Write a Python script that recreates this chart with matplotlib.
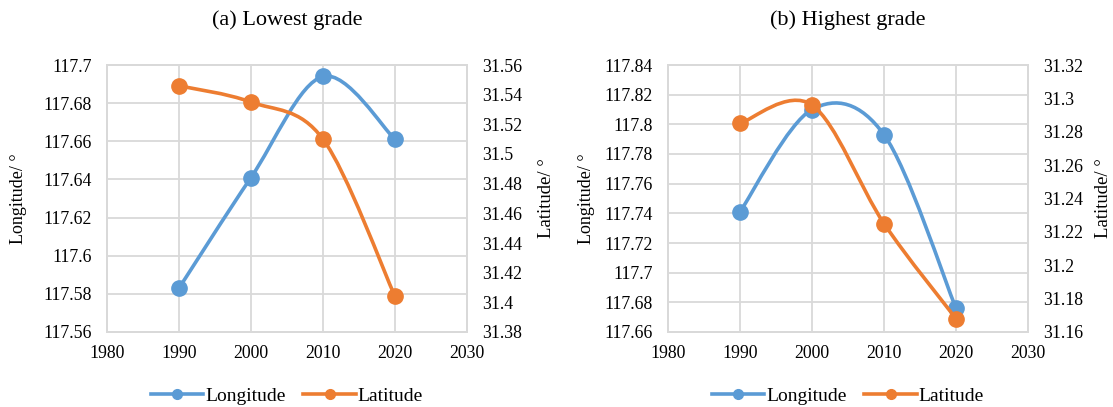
import matplotlib
matplotlib.use("Agg")
import matplotlib.pyplot as plt
from matplotlib.path import Path
from matplotlib.patches import PathPatch
from matplotlib.lines import Line2D
from matplotlib.ticker import FuncFormatter, MultipleLocator
import numpy as np

plt.rcParams['font.family'] = ['Liberation Serif', 'DejaVu Serif']

years = [1990, 2000, 2010, 2020]
titles = ["(a) Lowest grade", "(b) Highest grade"]
lon_a = [117.583, 117.641, 117.694, 117.661]
lat_a = [31.546, 31.535, 31.510, 31.404]
lon_b = [117.741, 117.810, 117.793, 117.676]
lat_b = [31.285, 31.296, 31.225, 31.168]
lon_lims = [(117.56, 117.70), (117.66, 117.84)]
lat_lims = [(31.38, 31.56), (31.16, 31.32)]

BLUE = "#5B9BD5"
ORANGE = "#ED7D31"
GRID = "#D9D9D9"
FS = 12.8


def smooth_path(x, y):
    # Excel-style smoothed line: cubic Bezier with Catmull-Rom control points
    P = np.column_stack([x, y]).astype(float)
    n = len(P)
    verts = [P[0]]
    codes = [Path.MOVETO]
    for i in range(n - 1):
        p0 = P[i - 1] if i > 0 else P[i]
        p1 = P[i]
        p2 = P[i + 1]
        p3 = P[i + 2] if i + 2 < n else P[i + 1]
        c1 = p1 + (p2 - p0) / 6.0
        c2 = p2 - (p3 - p1) / 6.0
        verts += [c1, c2, p2]
        codes += [Path.CURVE4] * 3
    return Path(verts, codes)


fmt = FuncFormatter(lambda v, p: ("%.2f" % v).rstrip('0').rstrip('.'))

fig = plt.figure(figsize=(11.13, 4.07), dpi=100)
W, H = 1113, 407
boxes = [(107, 65, 467, 332), (668, 65, 1028, 332)]
data = [(lon_a, lat_a), (lon_b, lat_b)]
lpads = [(12, 11), (7, 8.5)]

for k in range(2):
    x0, y0, x1, y1 = boxes[k]
    ax = fig.add_axes([x0 / W, 1 - y1 / H, (x1 - x0) / W, (y1 - y0) / H])
    ax2 = ax.twinx()
    lon, lat = data[k]

    ax.set_xlim(1980, 2030)
    ax.set_ylim(*lon_lims[k])
    ax2.set_ylim(*lat_lims[k])
    ax.xaxis.set_major_locator(MultipleLocator(10))
    ax.yaxis.set_major_locator(MultipleLocator(0.02))
    ax2.yaxis.set_major_locator(MultipleLocator(0.02))
    ax.yaxis.set_major_formatter(fmt)
    ax2.yaxis.set_major_formatter(fmt)
    ax.grid(True, color=GRID, linewidth=1.3)
    ax.set_axisbelow(True)
    for a in (ax, ax2):
        a.tick_params(length=0, labelsize=FS, pad=11)
        for s in a.spines.values():
            s.set_color(GRID)
            s.set_linewidth(1.3)
    ax.tick_params(axis='x', pad=9)

    ax.add_patch(PathPatch(smooth_path(years, lon), fill=False, edgecolor=BLUE,
                           lw=2.6, capstyle='round', zorder=3))
    ax.plot(years, lon, 'o', color=BLUE, ms=11, zorder=4)
    ax2.add_patch(PathPatch(smooth_path(years, lat), fill=False, edgecolor=ORANGE,
                            lw=2.6, capstyle='round', zorder=3))
    ax2.plot(years, lat, 'o', color=ORANGE, ms=11, zorder=4)

    ax.set_ylabel("Longitude/ °", fontsize=13, labelpad=lpads[k][0])
    ax2.set_ylabel("Latitude/ °", fontsize=13.5, labelpad=lpads[k][1])
    fig.text((x0 + x1) / 2 / W, 1 - 20 / H, titles[k], fontsize=16,
             ha='center', va='center')

    handles = [Line2D([], [], color=BLUE, lw=2.6, marker='o', ms=7),
               Line2D([], [], color=ORANGE, lw=2.6, marker='o', ms=7)]
    ax.legend(handles, ["Longitude", "Latitude"], loc='center',
              bbox_to_anchor=((x0 + x1) / 2 / W, 1 - 396 / H),
              bbox_transform=fig.transFigure, ncol=2, frameon=False,
              fontsize=14, handlelength=2.7, columnspacing=0.9,
              handletextpad=0.1, borderpad=0, borderaxespad=0)

fig.savefig("out.png", dpi=100, facecolor='white')
